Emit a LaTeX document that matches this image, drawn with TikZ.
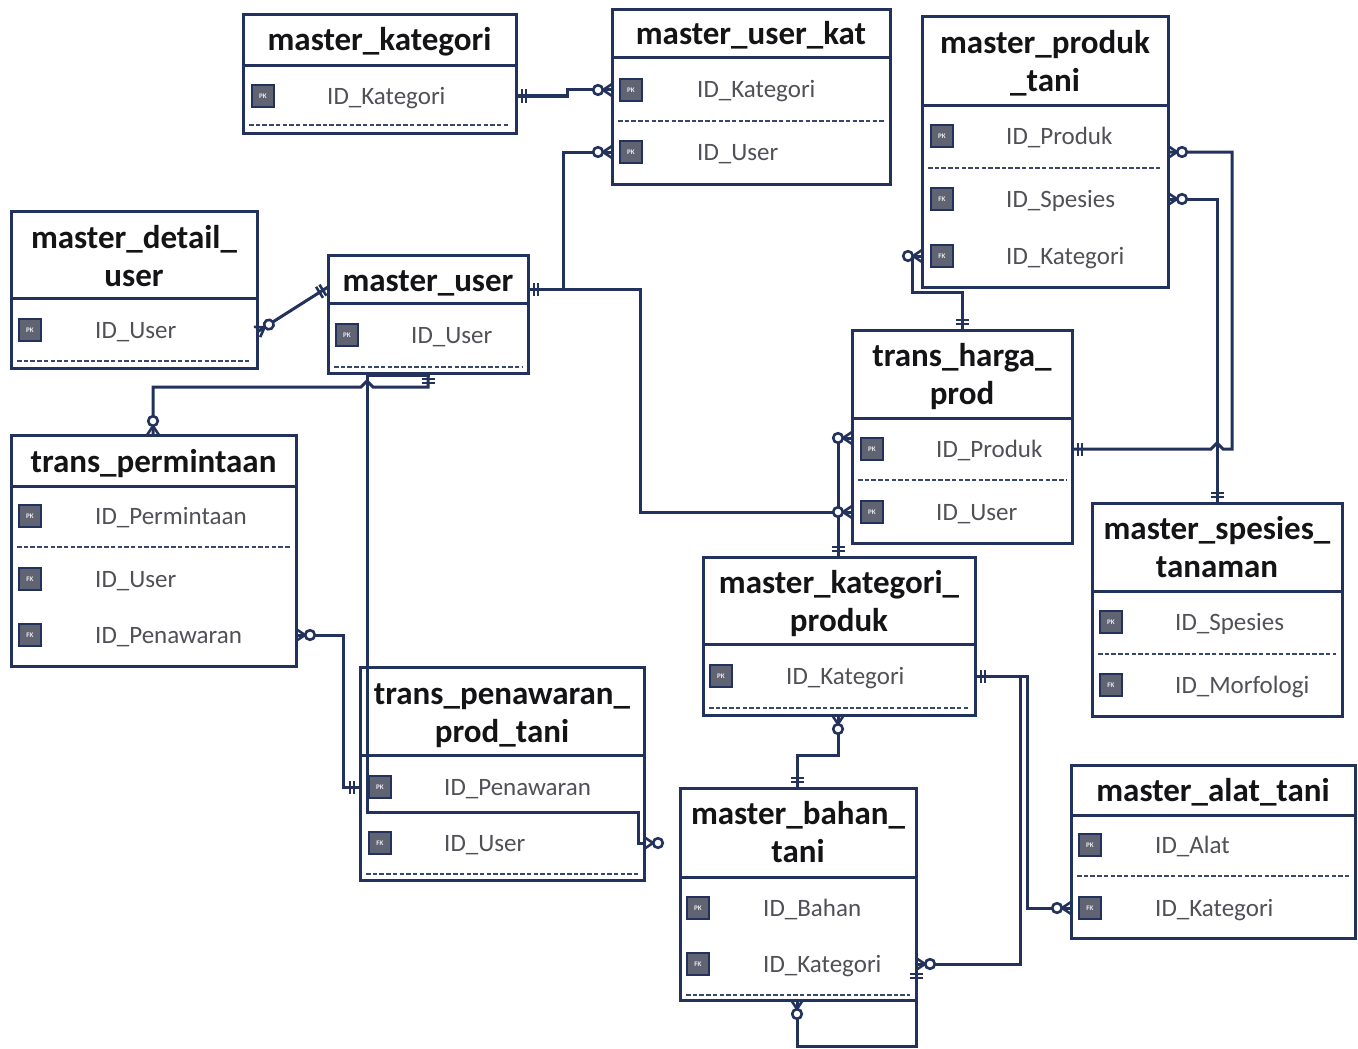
\documentclass[tikz,border=0pt]{standalone}
\usepackage{fontspec}
\setmainfont{Carlito}
\definecolor{navy}{RGB}{34,50,92}
\definecolor{titlec}{RGB}{20,20,22}
\definecolor{fieldc}{RGB}{80,80,86}
\definecolor{iconc}{RGB}{96,100,114}

% crow's foot with an open circle (zero or many); #1 end point, #2 direction into the entity
\newcommand\manyzero[2]{\begin{scope}[shift={#1},rotate=#2]
  \draw[conn,line width=2.6pt] (-9,0) -- (0,-6) (-9,0) -- (0,6);
  \draw[conn,line width=2.6pt,fill=white] (-14,0) circle[radius=4.8];
\end{scope}}
% two bars (exactly one); #1 end point, #2 direction into the entity
\newcommand\justone[2]{\begin{scope}[shift={#1},rotate=#2]
  \draw[conn,line width=2.6pt] (-6,-6.5) -- (-6,6.5) (-10,-6.5) -- (-10,6.5);
\end{scope}}
% a key field row: #1 icon x, #2 text x, #3 row y, #4 key label, #5 field name
\newcommand\keyrow[5]{%
  \node[keyicon] at (#1,#3) {#4};
  \node[fld] at (#2,#3+8) {#5};}

\begin{document}
\begin{tikzpicture}[x=1pt,y=-1pt,
  tbl/.style={draw=navy,line width=3pt,fill=white,anchor=north west,inner sep=0pt,outer sep=0pt},
  ttl/.style={font=\fontsize{33}{38}\selectfont\bfseries,text=titlec,inner sep=0pt,anchor=base},
  fld/.style={font=\fontsize{25}{28}\selectfont,text=fieldc,inner sep=0pt,anchor=base west},
  keyicon/.style={draw=navy,line width=2.6pt,fill=iconc,minimum size=22pt,inner sep=0pt,
    font=\fontsize{7}{7}\selectfont\bfseries,text=white!85!gray},
  hsep/.style={draw=navy,line width=3pt},
  dsep/.style={draw=navy!90,line width=2.6pt,dash pattern=on 4.5pt off 2.2pt},
  conn/.style={draw=navy,line width=3pt},
]
\fill[white] (0,0) rectangle (1358,1049);
\useasboundingbox (0,0) rectangle (1358,1049);

% ---------- master_kategori
\node[tbl,minimum width=273pt,minimum height=118pt] (mk) at (243,15) {};
\node[ttl] at (379.5,51) {master\_kategori};
\draw[hsep] (243,66) -- (516,66);
\keyrow{263}{327}{96}{PK}{ID\_Kategori}
\draw[dsep] (249,125) -- (510,125);
\coordinate (mk-k) at (516,96);

% ---------- master_user_kat
\node[tbl,minimum width=278pt,minimum height=174pt] (muk) at (612,10) {};
\node[ttl] at (751,45) {master\_user\_kat};
\draw[hsep] (612,58) -- (890,58);
\keyrow{631}{697}{90}{PK}{ID\_Kategori}
\draw[dsep] (618,121) -- (884,121);
\keyrow{631}{697}{152}{PK}{ID\_User}
\coordinate (muk-k) at (612,90);
\coordinate (muk-u) at (612,152);

% ---------- master_produk_tani
\node[tbl,minimum width=246pt,minimum height=270pt] (mpt) at (922,17) {};
\node[ttl] at (1045,54) {master\_produk};
\node[ttl] at (1045,92) {\_tani};
\draw[hsep] (922,105) -- (1168,105);
\keyrow{942}{1006}{136}{PK}{ID\_Produk}
\draw[dsep] (928,168) -- (1162,168);
\keyrow{942}{1006}{199}{FK}{ID\_Spesies}
\keyrow{942}{1006}{256}{FK}{ID\_Kategori}
\coordinate (mpt-p) at (1168,152);
\coordinate (mpt-s) at (1168,199);
\coordinate (mpt-k) at (922,256);

% ---------- master_detail_user
\node[tbl,minimum width=246pt,minimum height=157pt] (mdu) at (11,211) {};
\node[ttl] at (134,248) {master\_detail\_};
\node[ttl] at (134,286) {user};
\draw[hsep] (11,298) -- (257,298);
\keyrow{30}{95}{330}{PK}{ID\_User}
\draw[dsep] (17,361) -- (251,361);
\coordinate (mdu-u) at (257,332);

% ---------- master_user
\node[tbl,minimum width=200pt,minimum height=118pt] (mu) at (328,255) {};
\node[ttl] at (428,291) {master\_user};
\draw[hsep] (328,303) -- (528,303);
\keyrow{347}{411}{335}{PK}{ID\_User}
\draw[dsep] (334,367) -- (522,367);
\coordinate (mu-e) at (528,289);
\coordinate (mu-w) at (328,287);
\coordinate (mu-s) at (428,373);

% ---------- trans_harga_prod
\node[tbl,minimum width=220pt,minimum height=213pt] (thp) at (852,330) {};
\node[ttl] at (962,366) {trans\_harga\_};
\node[ttl] at (962,404) {prod};
\draw[hsep] (852,418) -- (1072,418);
\keyrow{872}{936}{449}{PK}{ID\_Produk}
\draw[dsep] (858,480) -- (1066,480);
\keyrow{872}{936}{512}{PK}{ID\_User}
\coordinate (thp-n) at (962,330);
\coordinate (thp-pw) at (852,438);
\coordinate (thp-pe) at (1072,449);
\coordinate (thp-u) at (852,512);

% ---------- trans_permintaan
\node[tbl,minimum width=285pt,minimum height=231pt] (tp) at (11,435) {};
\node[ttl] at (153.5,472) {trans\_permintaan};
\draw[hsep] (11,486) -- (296,486);
\keyrow{30}{95}{516}{PK}{ID\_Permintaan}
\draw[dsep] (17,547) -- (290,547);
\keyrow{30}{95}{579}{FK}{ID\_User}
\keyrow{30}{95}{635}{FK}{ID\_Penawaran}
\coordinate (tp-n) at (153,435);
\coordinate (tp-p) at (296,635);

% ---------- trans_penawaran_prod_tani
\node[tbl,minimum width=284pt,minimum height=213pt] (tpp) at (360,667) {};
\node[ttl] at (502,704) {trans\_penawaran\_};
\node[ttl] at (502,742) {prod\_tani};
\draw[hsep] (360,755) -- (644,755);
\keyrow{380}{444}{787}{PK}{ID\_Penawaran}
\keyrow{380}{444}{843}{FK}{ID\_User}
\draw[dsep] (366,874) -- (638,874);
\coordinate (tpp-p) at (360,787);
\coordinate (tpp-u) at (644,843);

% ---------- master_kategori_produk
\node[tbl,minimum width=272pt,minimum height=158pt] (mkp) at (703,557) {};
\node[ttl] at (839,593) {master\_kategori\_};
\node[ttl] at (839,631) {produk};
\draw[hsep] (703,644) -- (975,644);
\keyrow{721}{786}{676}{PK}{ID\_Kategori}
\draw[dsep] (709,708) -- (969,708);
\coordinate (mkp-n) at (838,557);
\coordinate (mkp-e) at (975,676);
\coordinate (mkp-s) at (838,715);

% ---------- master_bahan_tani
\node[tbl,minimum width=236pt,minimum height=212pt] (mbt) at (680,788) {};
\node[ttl] at (798,824) {master\_bahan\_};
\node[ttl] at (798,862) {tani};
\draw[hsep] (680,877) -- (916,877);
\keyrow{698}{763}{908}{PK}{ID\_Bahan}
\keyrow{698}{763}{964}{FK}{ID\_Kategori}
\draw[dsep] (686,995) -- (910,995);
\coordinate (mbt-n) at (797,788);
\coordinate (mbt-k) at (916,964);
\coordinate (mbt-s) at (797,1000);
\coordinate (mbt-e) at (916,968);

% ---------- master_spesies_tanaman
\node[tbl,minimum width=250pt,minimum height=213pt] (mst) at (1092,503) {};
\node[ttl] at (1217,539) {master\_spesies\_};
\node[ttl] at (1217,577) {tanaman};
\draw[hsep] (1092,591) -- (1342,591);
\keyrow{1111}{1175}{622}{PK}{ID\_Spesies}
\draw[dsep] (1098,654) -- (1336,654);
\keyrow{1111}{1175}{685}{FK}{ID\_Morfologi}
\coordinate (mst-n) at (1217,503);

% ---------- master_alat_tani
\node[tbl,minimum width=284pt,minimum height=173pt] (mat) at (1071,765) {};
\node[ttl] at (1213,801) {master\_alat\_tani};
\draw[hsep] (1071,815) -- (1355,815);
\keyrow{1090}{1155}{845}{PK}{ID\_Alat}
\draw[dsep] (1077,876) -- (1349,876);
\keyrow{1090}{1155}{908}{FK}{ID\_Kategori}
\coordinate (mat-k) at (1071,908);

% ---------- relationships
\draw[conn] (mk-k) -- (567,96) -- (567,90) -- (muk-k);
\draw[conn] (mu-e) -- (563,289) -- (563,152) -- (muk-u);
\draw[conn] (mu-e) -- (640,289) -- (640,512) -- (thp-u);
\draw[conn] (mu-w) -- (mdu-u);
\draw[conn] (mu-s) -- (428,387) -- (373,387) -- (367,381) -- (361,387) -- (153,387) -- (tp-n);
\draw[conn] (mu-s) -- (428,375) -- (367,375) -- (367,812) -- (638,812) -- (638,843) -- (tpp-u);
\draw[conn] (tp-p) -- (343,635) -- (343,787) -- (tpp-p);
\draw[conn] (mpt-k) -- (912,256) -- (912,292) -- (962,292) -- (thp-n);
\draw[conn] (mkp-n) -- (838,438) -- (thp-pw);
\draw[conn] (thp-pe) -- (1211,449) -- (1217,443) -- (1223,449) -- (1232,449) -- (1232,152) -- (mpt-p);
\draw[conn] (mst-n) -- (1217,199) -- (mpt-s);
\draw[conn] (mkp-e) -- (1027,676) -- (1027,908) -- (mat-k);
\draw[conn] (mkp-e) -- (1020,676) -- (1020,964) -- (mbt-k);
\draw[conn] (mkp-s) -- (838,755) -- (797,755) -- (mbt-n);
\draw[conn] (mbt-s) -- (797,1046) -- (916,1046) -- (mbt-e);

% ---------- cardinality marks
\justone{(mk-k)}{180}
\manyzero{(muk-k)}{0}
\justone{(mu-e)}{180}
\manyzero{(muk-u)}{0}
\manyzero{(thp-u)}{0}
\justone{(mu-w)}{32}
\manyzero{(mdu-u)}{212}
\justone{(mu-s)}{90}
\manyzero{(tp-n)}{-90}
\manyzero{(tpp-u)}{180}
\manyzero{(tp-p)}{180}
\justone{(tpp-p)}{0}
\manyzero{(mpt-k)}{0}
\justone{(thp-n)}{-90}
\justone{(mkp-n)}{-90}
\manyzero{(thp-pw)}{0}
\justone{(thp-pe)}{180}
\manyzero{(mpt-p)}{180}
\justone{(mst-n)}{-90}
\manyzero{(mpt-s)}{180}
\justone{(mkp-e)}{180}
\manyzero{(mat-k)}{0}
\manyzero{(mbt-k)}{180}
\manyzero{(mkp-s)}{90}
\justone{(mbt-n)}{-90}
\manyzero{(mbt-s)}{90}
\justone{(mbt-e)}{90}
\end{tikzpicture}
\end{document}
